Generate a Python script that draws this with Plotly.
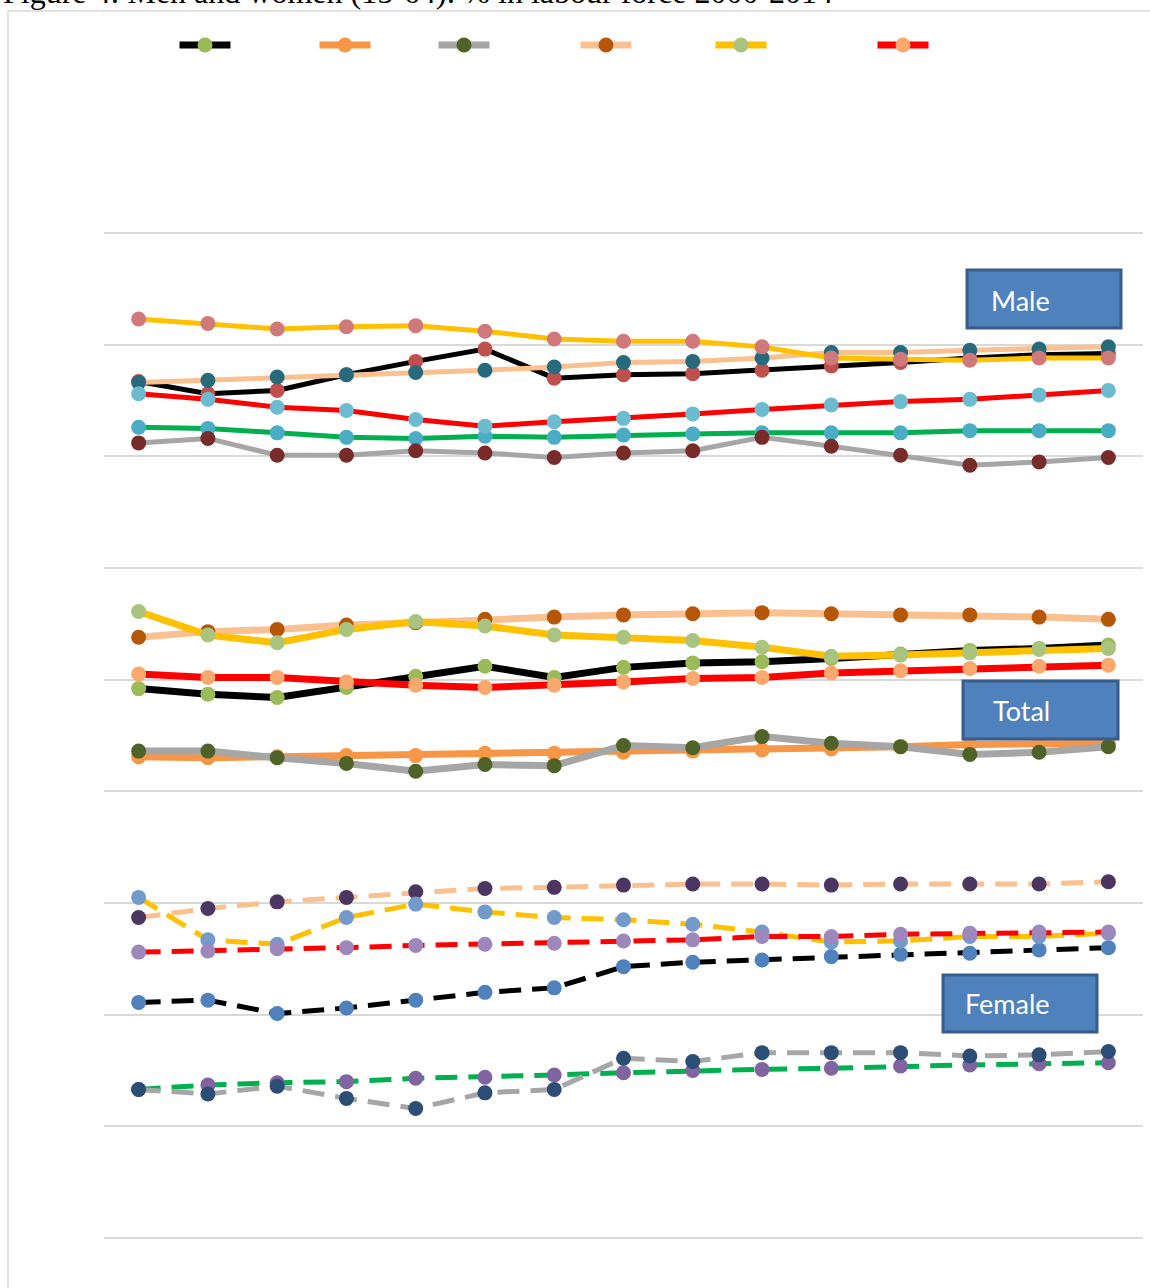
import plotly.graph_objects as go

# ---------------- data (values on the chart's hidden, offset value axis) ----------------
years = list(range(2000, 2015))

# Male group
male_black = [76.7, 75.6, 75.9, 77.3, 78.5, 79.6, 77.0, 77.3, 77.4, 77.7, 78.1, 78.4, 78.8, 79.1, 79.2]
male_green = [72.6, 72.5, 72.1, 71.7, 71.6, 71.8, 71.7, 71.9, 72.0, 72.1, 72.1, 72.1, 72.3, 72.3, 72.3]
male_gray = [71.2, 71.6, 70.1, 70.1, 70.5, 70.3, 69.9, 70.3, 70.5, 71.7, 70.9, 70.1, 69.2, 69.5, 69.9]
male_peach = [76.6, 76.8, 77.1, 77.3, 77.5, 77.7, 78.0, 78.4, 78.5, 78.8, 79.3, 79.3, 79.5, 79.6, 79.8]
male_gold = [82.3, 81.9, 81.4, 81.6, 81.7, 81.2, 80.5, 80.3, 80.3, 79.8, 78.8, 78.7, 78.6, 78.8, 78.8]
male_red = [75.6, 75.1, 74.4, 74.1, 73.3, 72.7, 73.1, 73.4, 73.8, 74.2, 74.6, 74.9, 75.1, 75.5, 75.9]

# Total group (these six appear in the legend)
total_black = [49.2, 48.7, 48.4, 49.3, 50.3, 51.2, 50.2, 51.1, 51.5, 51.6, 51.9, 52.3, 52.6, 52.8, 53.1]
total_orange = [43.1, 43.0, 43.1, 43.2, 43.2, 43.4, 43.4, 43.5, 43.6, 43.7, 43.8, 44.0, 44.2, 44.2, 44.3]
total_gray = [43.6, 43.6, 43.0, 42.5, 41.8, 42.4, 42.3, 44.1, 43.9, 44.9, 44.3, 44.0, 43.3, 43.5, 44.0]
total_peach = [53.8, 54.3, 54.5, 54.9, 55.1, 55.4, 55.6, 55.8, 55.9, 56.0, 55.9, 55.8, 55.8, 55.6, 55.4]
total_gold = [56.1, 54.0, 53.3, 54.5, 55.2, 54.8, 54.0, 53.8, 53.5, 52.9, 52.1, 52.2, 52.4, 52.7, 52.8]
total_red = [50.5, 50.2, 50.2, 49.8, 49.5, 49.3, 49.5, 49.8, 50.1, 50.2, 50.6, 50.8, 51.0, 51.2, 51.3]

# Female group
female_black = [21.1, 21.3, 20.1, 20.6, 21.3, 22.0, 22.4, 24.3, 24.7, 24.9, 25.2, 25.4, 25.5, 25.8, 26.0]
female_green = [13.3, 13.7, 13.9, 14.0, 14.3, 14.4, 14.6, 14.8, 15.0, 15.1, 15.2, 15.4, 15.5, 15.6, 15.7]
female_gray = [13.3, 12.9, 13.6, 12.5, 11.6, 13.0, 13.3, 16.1, 15.8, 16.6, 16.6, 16.6, 16.3, 16.4, 16.7]
female_peach = [28.7, 29.5, 30.1, 30.5, 31.0, 31.3, 31.4, 31.6, 31.7, 31.7, 31.6, 31.7, 31.7, 31.7, 31.9]
female_gold = [30.5, 26.7, 26.3, 28.7, 29.9, 29.2, 28.7, 28.5, 28.1, 27.4, 26.5, 26.6, 27.0, 27.0, 27.3]
female_red = [25.6, 25.7, 25.9, 26.0, 26.2, 26.3, 26.4, 26.6, 26.7, 27.0, 27.0, 27.2, 27.3, 27.4, 27.4]

group_labels = ["Male", "Total", "Female"]
title_text = "Figure 4: Men and women (15-64): % in labour force 2000-2014"

# ---------------- layout geometry helpers ----------------
FIG_W, FIG_H = 1150, 1288
L, R, T, B = 104, 1143, 127, 1288
PW, PH = R - L, B - T


def px(x):
    return (x - L) / PW


def py(y):
    return (B - y) / PH


fig = go.Figure()


def add(y, line_color, marker_color, width, dash=None, legend=None):
    fig.add_trace(go.Scatter(
        x=years, y=y, mode="lines+markers", name="",
        line=dict(color=line_color, width=width, dash=dash),
        marker=dict(color=marker_color, size=15, line=dict(width=0)),
        showlegend=legend is not None,
        legend=legend if legend else "legend",
        hoverinfo="skip",
    ))


# Male (solid)
add(male_black, "#000000", "#C0504D", 5)
add(male_green, "#00B050", "#4BACC6", 5)
add(male_gray, "#A6A6A6", "#772C2A", 5)
add(male_peach, "#FAC090", "#276A7C", 5)
add(male_gold, "#FFC000", "#D0797A", 5)
add(male_red, "#FF0000", "#6CBBD0", 5)

# Total (solid, thicker, in legend)
legend_ids = ["legend", "legend2", "legend3", "legend4", "legend5", "legend6"]
add(total_black, "#000000", "#9BBB59", 7, legend=legend_ids[0])
add(total_orange, "#F79646", "#F79646", 7, legend=legend_ids[1])
add(total_gray, "#A6A6A6", "#4F6228", 7, legend=legend_ids[2])
add(total_peach, "#FAC090", "#B65708", 7, legend=legend_ids[3])
add(total_gold, "#FFC000", "#A9C47F", 7, legend=legend_ids[4])
add(total_red, "#FF0000", "#F9A86E", 7, legend=legend_ids[5])

# Female (dashed)
DASH = "22px,11px"
add(female_black, "#000000", "#4F81BD", 5, DASH)
add(female_green, "#00B050", "#8064A2", 5, DASH)
add(female_gray, "#A6A6A6", "#2C4D75", 5, DASH)
add(female_peach, "#FAC090", "#4A3660", 5, DASH)
add(female_gold, "#FFC000", "#729ACA", 5, DASH)
add(female_red, "#FF0000", "#9D87BB", 5, DASH)

# legends: one entry each, placed like the original
legend_centers = [205, 345, 464, 606, 741, 903]
layout_legends = {}
for lid, cx in zip(legend_ids, legend_centers):
    layout_legends[lid] = dict(
        x=px(cx - 30.5), xanchor="left", y=py(45), yanchor="middle",
        orientation="h", itemwidth=51, bgcolor="rgba(0,0,0,0)",
        font=dict(size=1, color="rgba(0,0,0,0)"),
        itemclick=False, itemdoubleclick=False,
    )

shapes = [
    # chart-area border
    dict(type="rect", xref="paper", yref="paper",
         x0=px(8), x1=px(1165), y0=py(1300), y1=py(11),
         line=dict(color="#D9D9D9", width=1.5), fillcolor="rgba(0,0,0,0)", layer="below"),
]
boxes = [
    (967, 1121, 270, 328, 989, 300),
    (963, 1118, 681, 739, 991, 710),
    (943, 1097, 975, 1032, 963, 1003),
]
annotations = [
    dict(text=title_text, xref="paper", yref="paper", x=px(1), y=py(12),
         xanchor="left", yanchor="bottom", showarrow=False,
         font=dict(family="Liberation Serif", size=32, color="#000000")),
]
for (x0, x1, y0, y1, tx, ty), lab in zip(boxes, group_labels):
    shapes.append(dict(type="rect", xref="paper", yref="paper",
                       x0=px(x0), x1=px(x1), y0=py(y1), y1=py(y0),
                       line=dict(color="#385D8A", width=3), fillcolor="#4F81BD", layer="above"))
    annotations.append(dict(text=lab, xref="paper", yref="paper", x=px(tx), y=py(ty),
                            xanchor="left", yanchor="middle", showarrow=False,
                            font=dict(family="Lato", size=27, color="#FFFFFF")))

# value-axis range so gridlines sit where they do in the original
unit_px = 111.67 / 10.0
y_lo = (1238 - B) / unit_px
y_hi = (1238 - T) / unit_px

fig.update_layout(
    width=FIG_W, height=FIG_H,
    margin=dict(l=L, r=FIG_W - R, t=T, b=FIG_H - B, pad=0),
    paper_bgcolor="#FFFFFF", plot_bgcolor="#FFFFFF",
    xaxis=dict(range=[1999.5, 2014.5], showgrid=False, zeroline=False, showline=False,
               showticklabels=False, ticks="", fixedrange=True),
    yaxis=dict(range=[y_lo, y_hi], tick0=0, dtick=10, showgrid=True, gridcolor="#D9D9D9",
               gridwidth=2, zeroline=False, showline=False, showticklabels=False, ticks="",
               fixedrange=True),
    shapes=shapes, annotations=annotations,
    hovermode=False,
    **layout_legends,
)

fig.write_html("out.html", config={"displayModeBar": False})
